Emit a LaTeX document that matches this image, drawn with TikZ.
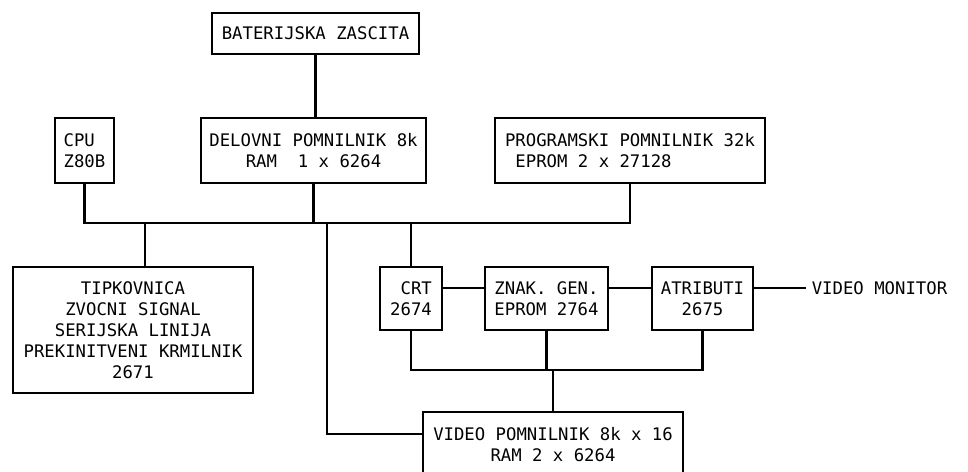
\documentclass[tikz,border=0pt]{standalone}
\usepackage{fontspec}
\newfontfamily\plotfont{DejaVu Sans Mono}
\usepackage{tikz}

\begin{document}
\begin{tikzpicture}[x=0.025cm, y=-0.025cm, line width=1.6pt,
  every node/.style={font=\plotfont\fontsize{12.3}{15}\selectfont},
  blok/.style={draw, line width=1.6pt, inner sep=0pt}]
\useasboundingbox (0,0) rectangle (968,472);
% bloki
\node[blok, minimum width=5.175cm, minimum height=1.025cm] (bat) at (315.5,33.5) {BATERIJSKA ZASCITA};
\node[blok, align=left, minimum width=1.475cm, minimum height=1.625cm] (cpu) at (84.5,150.5) {CPU\\Z80B};
\node[blok, align=center, minimum width=5.625cm, minimum height=1.625cm] (del) at (313.5,150.5) {DELOVNI POMNILNIK 8k\\RAM~~1 x 6264};
\node[blok, align=left, minimum width=6.75cm, minimum height=1.625cm] (prog) at (630,150.5) {PROGRAMSKI POMNILNIK 32k\\~EPROM 2 x 27128};
\node[blok, align=center, minimum width=6cm, minimum height=3.15cm] (tipk) at (133,330) {TIPKOVNICA\\ZVOCNI SIGNAL\\SERIJSKA LINIJA\\PREKINITVENI KRMILNIK\\2671};
\node[blok, align=right, minimum width=1.55cm, minimum height=1.575cm] (crt) at (411,298.5) {CRT\\2674};
\node[blok, align=left, minimum width=3.075cm, minimum height=1.575cm] (znak) at (546.5,298.5) {ZNAK. GEN.\\EPROM 2764};
\node[blok, align=center, minimum width=2.525cm, minimum height=1.575cm] (atrib) at (702.5,298.5) {ATRIBUTI\\2675};
\node[blok, align=center, minimum width=6.5cm, minimum height=1.65cm] (video) at (553,445) {VIDEO POMNILNIK 8k x 16\\RAM 2 x 6264};
\node[anchor=west] (mon) at (806,288) {VIDEO MONITOR};
% vodila
\coordinate (bus) at (0,223);
\coordinate (vbus) at (0,370);
\coordinate (hl) at (0,288);
\coordinate (tap) at (327,223);
\draw (bat.south) -- (bat.south |- del.north);
\draw (cpu.south) -- (cpu.south |- bus) -- (prog.south |- bus) -- (prog.south);
\draw (del.south) -- (del.south |- bus);
\draw ([xshift=0.3cm]tipk.north) -- ([xshift=0.3cm]tipk.north |- bus);
\draw (crt.north) -- (crt.north |- bus);
\draw (tap) |- ([yshift=0.275cm]video.west);
\draw (crt.east |- hl) -- (znak.west |- hl);
\draw (znak.east |- hl) -- (atrib.west |- hl);
\draw (atrib.east |- hl) -- (mon.west);
\draw (crt.south) |- (atrib.south |- vbus) -- (atrib.south);
\draw (znak.south) -- (znak.south |- vbus);
\draw (video.north) -- (video.north |- vbus);
\end{tikzpicture}
\end{document}
